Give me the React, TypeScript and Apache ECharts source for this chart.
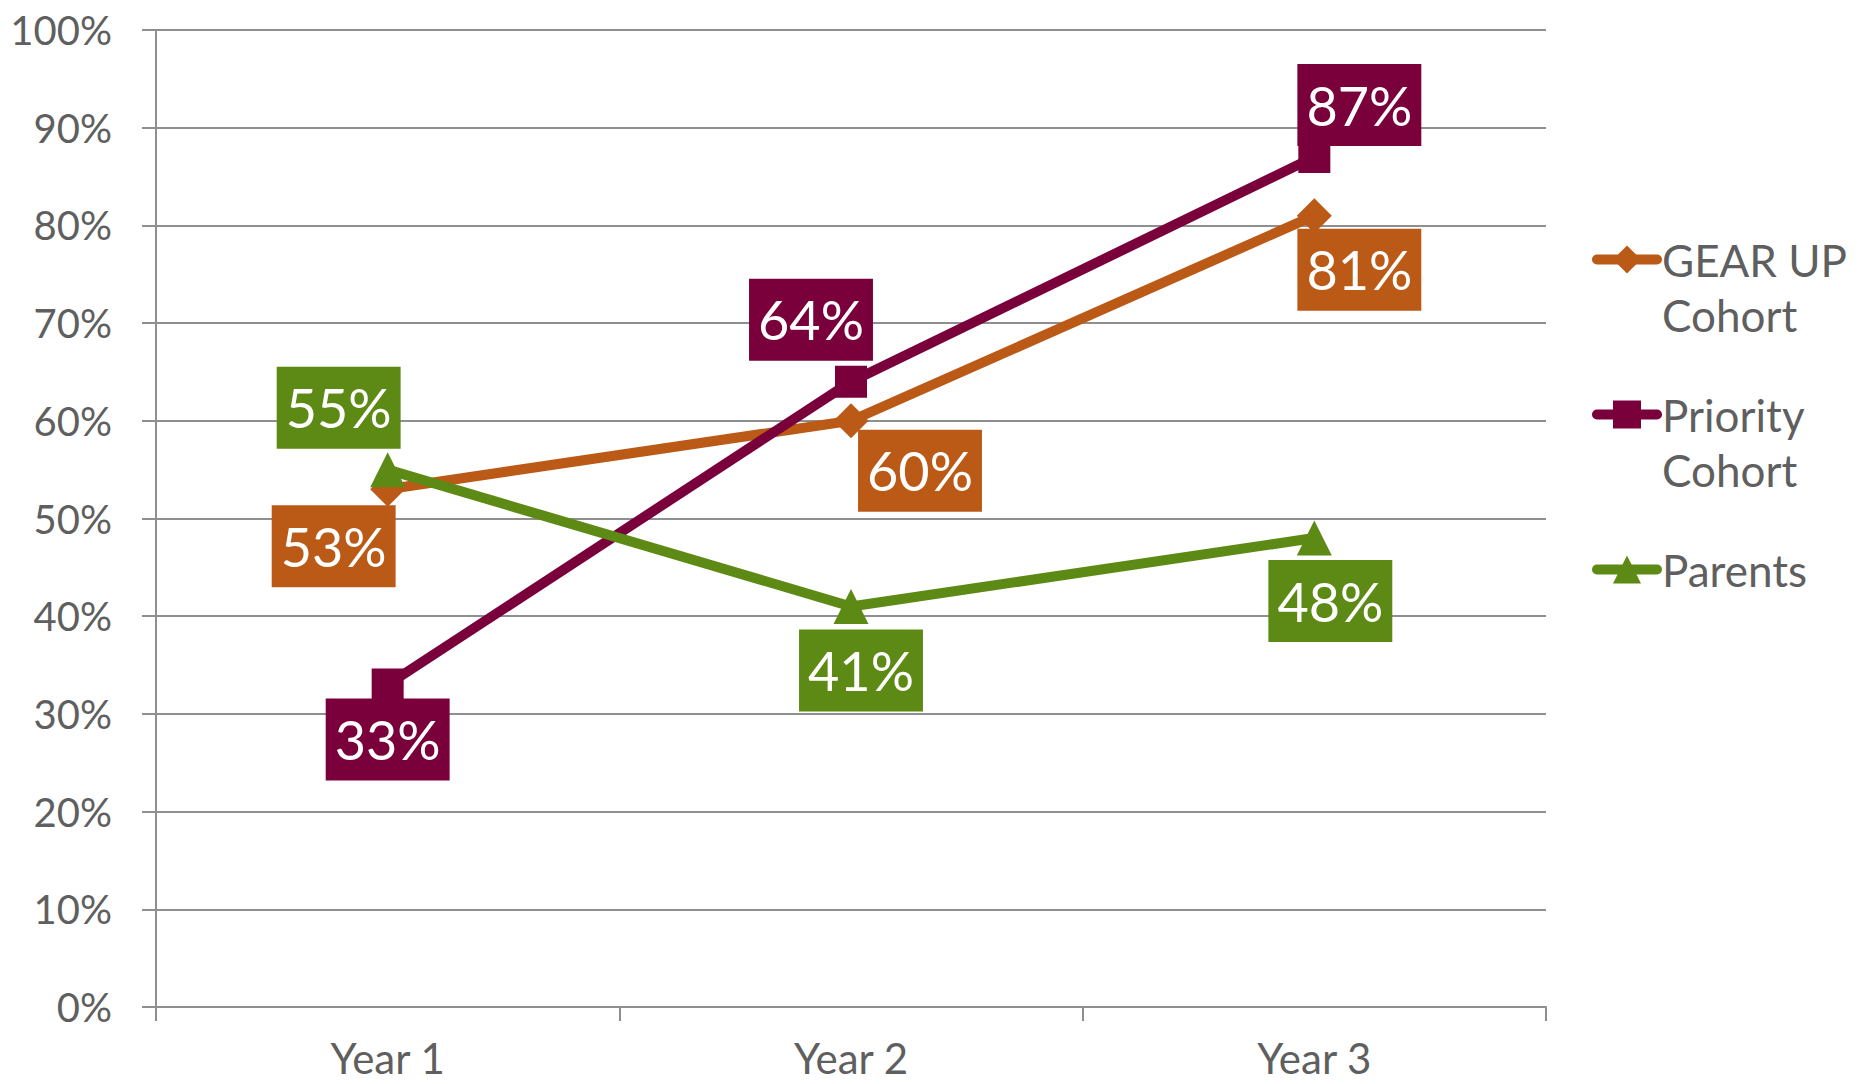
import React, { useEffect, useRef } from "react";
import * as echarts from "echarts";

const categories = ["Year 1", "Year 2", "Year 3"];
const gearUp = [53, 60, 81];
const priority = [33, 64, 87];
const parents = [55, 41, 48];
const seriesNames = ["GEAR UP Cohort", "Priority Cohort", "Parents"];
const legendLabels = ["\nGEAR UP\nCohort", "\nPriority\nCohort", "Parents"];

// label offsets (layout)
const gearOffsets = [[-54, 57], [69, 50], [45, 54]];
const priorityOffsets = [[0, 55], [-40, -62], [45, -52]];
const parentsOffsets = [[-49, -62], [10, 64], [16, 63]];

const FONT = "Lato, 'Open Sans', sans-serif";
const COLORS = ["#BB5A17", "#7A003C", "#5C8A14"];
const TEXT = "#5f5f5f";
const GRID = "#8f8f8f";

function makeSeries(name: string, values: number[], offsets: number[][], color: string, symbol: string, size: number) {
  return {
    name,
    type: "line",
    data: values.map((v, i) => ({ value: v, label: { offset: offsets[i] } })),
    symbol,
    symbolSize: size,
    showAllSymbol: true,
    lineStyle: { color, width: 10 },
    itemStyle: { color },
    emphasis: { disabled: true },
    label: {
      show: true,
      position: "inside",
      formatter: "{c}%",
      color: "#ffffff",
      backgroundColor: color,
      fontFamily: FONT,
      fontSize: 54,
      lineHeight: 66,
      padding: [8, 9, 8, 9],
    },
  };
}

export default function App() {
  const ref = useRef<HTMLDivElement>(null);
  useEffect(() => {
    const chart = echarts.init(ref.current!, null, { renderer: "svg" });
    const legendBase = {
      orient: "vertical",
      left: 1592,
      padding: 0,
      itemWidth: 60,
      itemHeight: 35,
      itemGap: 0,
      selectedMode: false,
      lineStyle: { width: 10, cap: "round" },
      formatter: (n: string) => legendLabels[seriesNames.indexOf(n)],
      textStyle: { fontFamily: FONT, fontSize: 44, color: TEXT, lineHeight: 55 },
    };
    chart.setOption({
      animation: false,
      backgroundColor: "#ffffff",
      grid: { left: 156, right: 314, top: 30, bottom: 77, containLabel: false },
      legend: [
        { ...legendBase, data: [seriesNames[0]], top: 177 },
        { ...legendBase, data: [seriesNames[1]], top: 332 },
        { ...legendBase, data: [seriesNames[2]], top: 542 },
      ],
      xAxis: {
        type: "category",
        data: categories,
        boundaryGap: true,
        axisLine: { show: true, lineStyle: { color: GRID, width: 2 } },
        axisTick: { show: true, length: 14, alignWithLabel: false, lineStyle: { color: GRID, width: 2 } },
        axisLabel: { color: TEXT, fontFamily: FONT, fontSize: 42, margin: 30 },
        splitLine: { show: false },
      },
      yAxis: {
        type: "value",
        min: 0,
        max: 100,
        interval: 10,
        axisLine: { show: true, lineStyle: { color: GRID, width: 2 } },
        axisTick: { show: true, length: 14, lineStyle: { color: GRID, width: 2 } },
        axisLabel: { color: TEXT, fontFamily: FONT, fontSize: 40, margin: 44, formatter: "{value}%" },
        splitLine: { show: true, lineStyle: { color: GRID, width: 2 } },
      },
      series: [
        makeSeries(seriesNames[0], gearUp, gearOffsets, COLORS[0], "diamond", 35),
        makeSeries(seriesNames[1], priority, priorityOffsets, COLORS[1], "rect", 32),
        makeSeries(seriesNames[2], parents, parentsOffsets, COLORS[2], "triangle", 35),
      ],
    });
    return () => chart.dispose();
  }, []);
  return <div ref={ref} style={{ width: 1860, height: 1084, position: "absolute", left: 0, top: 0 }} />;
}
